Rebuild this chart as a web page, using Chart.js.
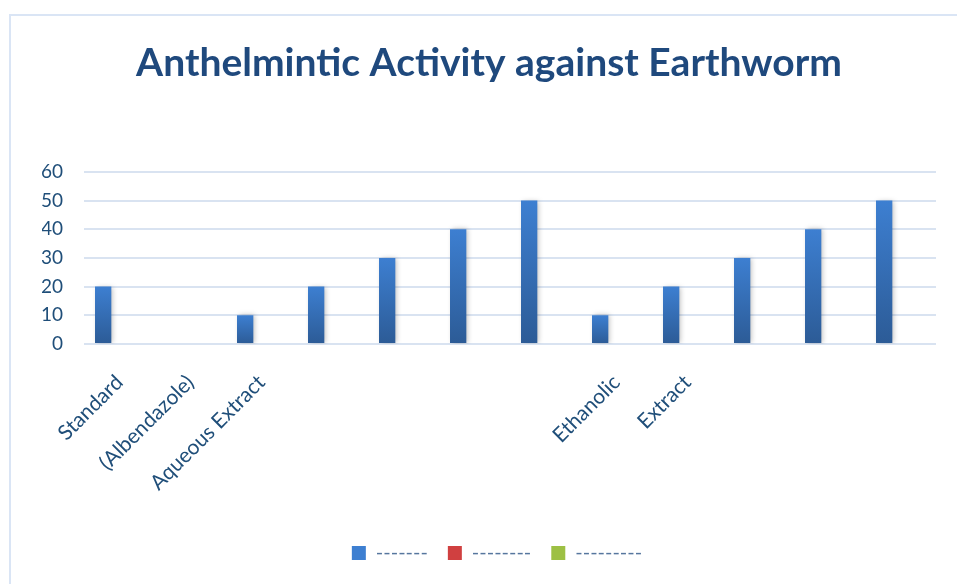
<!DOCTYPE html>
<html>
<head>
    <title>Anthelmintic Activity against Earthworm</title>
    <script src="https://cdn.jsdelivr.net/npm/chart.js"></script>
    <style>
        html, body { margin: 0; padding: 0; background: #fff; }
        #wrap { position: relative; width: 957px; height: 584px; overflow: hidden; }
        #frame { position: absolute; left: 9px; top: 14px; width: 1000px; height: 700px;
                 border-left: 2px solid #dae5f5; border-top: 2px solid #dae5f5; }
        canvas { position: absolute; left: 0; top: 0; }
    </style>
</head>
<body>
    <div id="wrap">
        <div id="frame"></div>
        <canvas id="myChart" width="957" height="584"></canvas>
    </div>
    <script>
        // Categories (only some of them carry a label in the original)
        var categories = ['Standard', '(Albendazole)', 'Aqueous Extract', '', '', '', '',
                          'Ethanolic', 'Extract', '', '', ''];
        var seriesNames = ['-------', '--------', '---------'];
        var series1 = [20, 0, 10, 20, 30, 40, 50, 10, 20, 30, 40, 50];
        var series2 = [null, null, null, null, null, null, null, null, null, null, null, null];
        var series3 = [null, null, null, null, null, null, null, null, null, null, null, null];
        var yTicks = [0, 10, 20, 30, 40, 50, 60];

        var colors = [
            ['#3d7fd1', '#2c5b96'],
            ['#d04040', '#a52a2a'],
            ['#9dc044', '#76923c']
        ];

        // vertical gradient per bar, from its own top to the baseline
        function barGradient(ctx, idx) {
            var chart = ctx.chart;
            var y = chart.scales.y;
            var c = colors[idx];
            if (!y || !chart.chartArea || ctx.type !== 'data' || ctx.raw == null) return c[0];
            var top = y.getPixelForValue(ctx.raw);
            var bottom = y.getPixelForValue(0);
            if (bottom - top < 1) return c[0];
            var g = chart.ctx.createLinearGradient(0, top, 0, bottom);
            g.addColorStop(0, c[0]);
            g.addColorStop(1, c[1]);
            return g;
        }

        var barShadow = {
            id: 'barShadow',
            beforeDatasetsDraw: function(chart) {
                var ctx = chart.ctx;
                ctx.save();
                ctx.shadowColor = 'rgba(0,0,0,0.25)';
                ctx.shadowBlur = 5;
                ctx.shadowOffsetX = 2;
                ctx.shadowOffsetY = 0;
            },
            afterDatasetsDraw: function(chart) {
                chart.ctx.restore();
            }
        };

        // nudge the legend a little to the right, like the original
        var legendNudge = {
            id: 'legendNudge',
            afterLayout: function(chart) {
                chart.legend.left += 8;
                chart.legend.right += 8;
            }
        };

        var ctx = document.getElementById('myChart').getContext('2d');
        var chart = new Chart(ctx, {
            type: 'bar',
            data: {
                labels: categories,
                datasets: [
                    { label: seriesNames[0], data: series1,
                      backgroundColor: function(c) { return barGradient(c, 0); } },
                    { label: seriesNames[1], data: series2,
                      backgroundColor: function(c) { return barGradient(c, 1); } },
                    { label: seriesNames[2], data: series3,
                      backgroundColor: function(c) { return barGradient(c, 2); } }
                ]
            },
            plugins: [barShadow, legendNudge],
            options: {
                responsive: false,
                animation: false,
                devicePixelRatio: 1,
                layout: { padding: { left: 42, right: 21, top: 0, bottom: 11 } },
                datasets: { bar: { categoryPercentage: 0.69, barPercentage: 1.0, borderWidth: 0 } },
                plugins: {
                    title: {
                        display: true,
                        text: 'Anthelmintic Activity against Earthworm',
                        color: '#1f497d',
                        font: { family: 'Lato', size: 39, weight: 'bold' },
                        padding: { top: 40, bottom: 85 }
                    },
                    legend: {
                        position: 'bottom',
                        labels: {
                            color: '#56769e',
                            font: { family: 'Lato', size: 20 },
                            boxWidth: 14,
                            boxHeight: 14,
                            padding: 20,
                            generateLabels: function(chart) {
                                return chart.data.datasets.map(function(ds, i) {
                                    return {
                                        text: ds.label,
                                        fillStyle: colors[i][0],
                                        strokeStyle: colors[i][0],
                                        lineWidth: 0,
                                        fontColor: '#56769e',
                                        datasetIndex: i
                                    };
                                });
                            }
                        }
                    },
                    tooltip: { enabled: false }
                },
                scales: {
                    x: {
                        grid: { display: false },
                        border: { display: false },
                        ticks: {
                            color: '#1f4e79',
                            font: { family: 'Lato', size: 21 },
                            maxRotation: 45,
                            minRotation: 45,
                            autoSkip: false,
                            padding: 18
                        },
                        afterFit: function(s) { s.height = 179; }
                    },
                    y: {
                        min: 0,
                        max: 60,
                        afterBuildTicks: function(s) {
                            s.ticks = yTicks.map(function(v) { return { value: v }; });
                        },
                        grid: { color: '#d9e3f1', lineWidth: 2, drawTicks: false },
                        border: { display: false },
                        ticks: {
                            color: '#1f4e79',
                            font: { family: 'Lato', size: 19 },
                            padding: 21
                        },
                        afterFit: function(s) { s.width = 42; }
                    }
                }
            }
        });
    </script>
</body>
</html>
